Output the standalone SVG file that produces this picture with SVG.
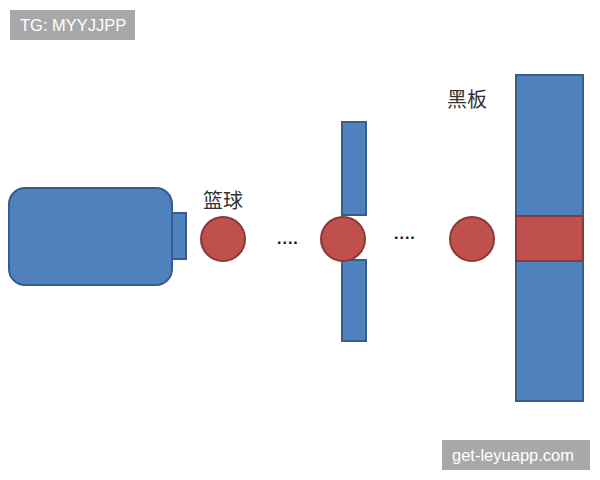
<svg xmlns="http://www.w3.org/2000/svg" width="600" height="480" viewBox="0 0 600 480">
<style>
.blue{fill:#4F81BD;stroke:#385D8A;stroke-width:2}
.red{fill:#C0504D;stroke:#8C3836;stroke-width:2}
.lbl{font-family:"Noto Sans CJK SC","Noto Sans CJK JP",sans-serif;fill:#333;font-size:20px}
.dots{font-family:"Liberation Sans",sans-serif;font-size:16px;fill:#111;font-weight:bold;letter-spacing:1px}
.wm{fill:#A8A8A8}
.wmt{font-family:"Liberation Sans",Arial,sans-serif;fill:#fff;font-size:16.5px}
</style>
<rect width="600" height="480" fill="#fff"/>
<g id="camera">
<rect class="blue" x="9" y="188" width="163" height="97" rx="16"/>
<rect class="blue" x="172" y="213" width="14" height="46"/>
</g>
<g id="ball1">
<circle class="red" cx="223" cy="239" r="22"/>
<text class="lbl" x="203" y="208">篮球</text>
</g>
<g id="dots1"><text class="dots" x="277" y="244">....</text></g>
<g id="hoop">
<rect class="blue" x="342" y="122" width="24" height="93"/>
<rect class="blue" x="342" y="260" width="24" height="81"/>
<circle class="red" cx="343" cy="239" r="22"/>
</g>
<g id="dots2"><text class="dots" x="394" y="239">....</text></g>
<g id="ball3"><circle class="red" cx="472" cy="239" r="22"/></g>
<g id="board">
<rect class="blue" x="516" y="75" width="67" height="326"/>
<rect class="red" x="516" y="216" width="67" height="45"/>
<text class="lbl" x="447" y="107" font-size="22">黑板</text>
</g>
<g id="connectors"/>
<g id="watermarks">
<rect class="wm" x="10" y="10" width="125" height="30"/>
<text class="wmt" x="20" y="31">TG: MYYJJPP</text>
<rect class="wm" x="442" y="440" width="148" height="30"/>
<text class="wmt" x="452" y="461">get-leyuapp.com</text>
</g>
</svg>
